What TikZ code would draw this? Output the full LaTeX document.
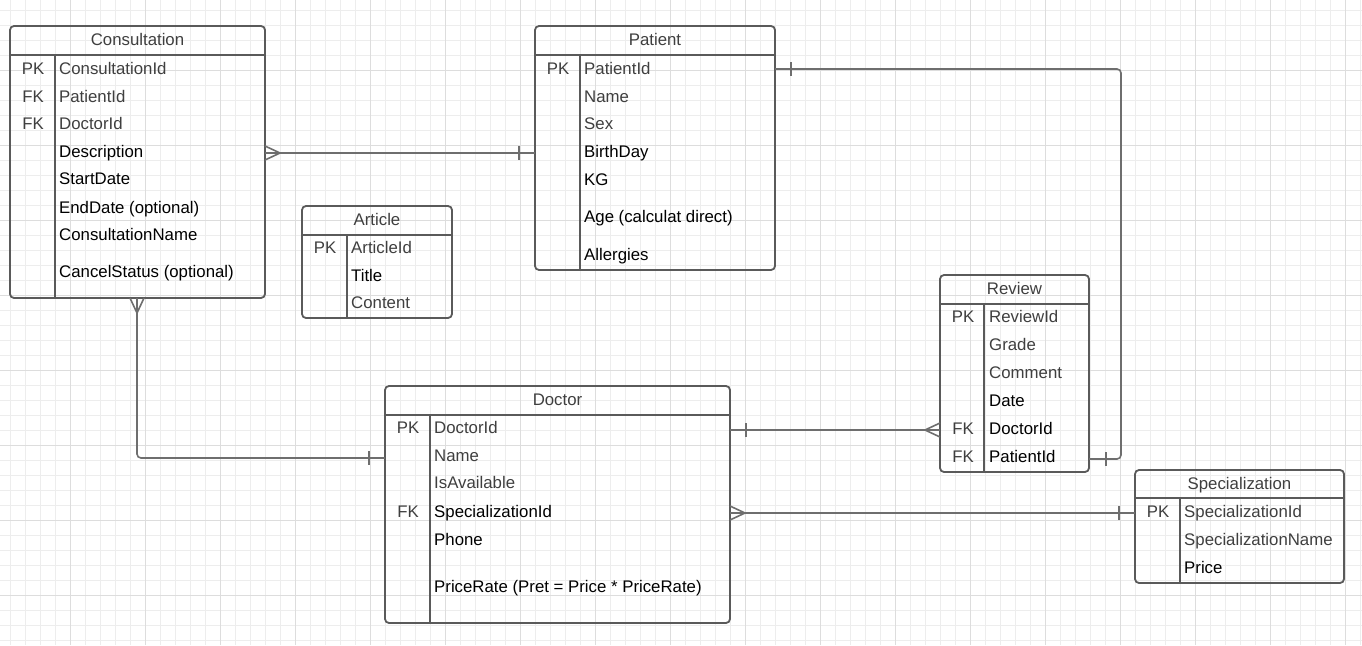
\documentclass[tikz,border=0pt]{standalone}
\usepackage{fontspec}
\setmainfont{Liberation Sans}
\definecolor{gridminor}{HTML}{EDEDED}
\definecolor{gridmajor}{HTML}{DDDDDD}
\definecolor{boxline}{HTML}{5A5A5A}
\definecolor{connline}{HTML}{6E6E6E}
\definecolor{txtgray}{HTML}{3F3F3F}
\tikzset{
  tbl/.style={draw=boxline, line width=1.8pt, rounded corners=4pt, fill=none, inner sep=0pt, outer sep=0pt, anchor=north west},
  tblline/.style={draw=boxline, line width=1.8pt},
  conn/.style={draw=connline, line width=1.6pt},
  fld/.style={anchor=base west, inner sep=0pt, font=\fontsize{16.8}{18}\selectfont, text=black},
  fldg/.style={fld, text=txtgray},
  keyl/.style={anchor=base, inner sep=0pt, font=\fontsize{16.8}{18}\selectfont, text=txtgray},
  ttl/.style={anchor=base, inner sep=0pt, font=\fontsize{16.8}{18}\selectfont, text=txtgray},
}
% #1 name, #2 left, #3 top, #4 width, #5 height, #6 header height, #7 divider offset, #8 title
\newcommand\ertbl[8]{%
  \node[tbl, minimum width=#4pt, minimum height=#5pt] (#1) at (#2,#3) {};
  \draw[tblline] ([yshift=-#6pt]#1.north west) -- ([yshift=-#6pt]#1.north east);
  \draw[tblline] ([xshift=#7pt,yshift=-#6pt]#1.north west) -- ([xshift=#7pt]#1.south west);
  \node[ttl] (#1-title) at ([yshift=-19pt]#1.north) {#8};
}
\begin{document}
\begin{tikzpicture}[x=1pt,y=-1pt]
\useasboundingbox (0,0) rectangle (1362,645);
\fill[white] (0,0) rectangle (1362,645);
% grid
\foreach \i in {0,...,90} {
  \draw[gridminor, line width=0.8pt] (10+15*\i,0) -- (10+15*\i,645);
}
\foreach \j in {0,...,42} {
  \draw[gridminor, line width=0.8pt] (0,10+15*\j) -- (1362,10+15*\j);
}
\foreach \i in {0,...,18} {
  \draw[gridmajor, line width=0.8pt] (70+75*\i,0) -- (70+75*\i,645);
}
\foreach \j in {0,...,8} {
  \draw[gridmajor, line width=0.8pt] (0,70+75*\j) -- (1362,70+75*\j);
}

% tables
\ertbl{consult}{10}{26}{255}{272}{29}{45}{Consultation}
\ertbl{patient}{535}{26}{240}{244}{29}{45}{Patient}
\ertbl{article}{302}{206}{150}{112}{29}{45}{Article}
\ertbl{review}{940}{275}{149}{197}{29}{44}{Review}
\ertbl{doctor}{385}{386}{345}{237}{29}{45}{Doctor}
\ertbl{spec}{1135}{470}{209}{113}{28}{45}{Specialization}

% Consultation fields
\node[keyl] (ck1) at (33,74) {PK};
\node[keyl] (ck2) at (33,102) {FK};
\node[keyl] (ck3) at (33,129) {FK};
\node[fldg] (cf1) at (59,74) {ConsultationId};
\node[fldg] (cf2) at (59,102) {PatientId};
\node[fldg] (cf3) at (59,129) {DoctorId};
\node[fld] (cf4) at (59,157) {Description};
\node[fld] (cf5) at (59,184) {StartDate};
\node[fld] (cf6) at (59,213) {EndDate (optional)};
\node[fld] (cf7) at (59,240) {ConsultationName};
\node[fld] (cf8) at (59,277) {CancelStatus (optional)};

% Patient fields
\node[keyl] (pk1) at (558,74) {PK};
\node[fldg] (pf1) at (584,74) {PatientId};
\node[fldg] (pf2) at (584,102) {Name};
\node[fldg] (pf3) at (584,129) {Sex};
\node[fld] (pf4) at (584,157) {BirthDay};
\node[fld] (pf5) at (584,185) {KG};
\node[fld] (pf6) at (584,222) {Age (calculat direct)};
\node[fld] (pf7) at (584,260) {Allergies};

% Article fields
\node[keyl] (ak1) at (325,253) {PK};
\node[fldg] (af1) at (351,253) {ArticleId};
\node[fld] (af2) at (351,281) {Title};
\node[fldg] (af3) at (351,308) {Content};

% Review fields
\node[keyl] (rk1) at (963,322) {PK};
\node[keyl] (rk2) at (963,434) {FK};
\node[keyl] (rk3) at (963,462) {FK};
\node[fldg] (rf1) at (989,322) {ReviewId};
\node[fldg] (rf2) at (989,350) {Grade};
\node[fldg] (rf3) at (989,378) {Comment};
\node[fld] (rf4) at (989,406) {Date};
\node[fld] (rf5) at (989,434) {DoctorId};
\node[fld] (rf6) at (989,462) {PatientId};

% Doctor fields
\node[keyl] (dk1) at (408,433) {PK};
\node[keyl] (dk2) at (408,517) {FK};
\node[fldg] (df1) at (434,433) {DoctorId};
\node[fldg] (df2) at (434,461) {Name};
\node[fldg] (df3) at (434,488) {IsAvailable};
\node[fld] (df4) at (434,517) {SpecializationId};
\node[fld] (df5) at (434,545) {Phone};
\node[fld] (df6) at (434,592) {PriceRate (Pret = Price * PriceRate)};

% Specialization fields
\node[keyl] (sk1) at (1158,517) {PK};
\node[fldg] (sf1) at (1184,517) {SpecializationId};
\node[fldg] (sf2) at (1184,545) {SpecializationName};
\node[fld] (sf3) at (1184,573) {Price};

% connectors
% Consultation (many) -- Patient (one)
\draw[conn] (consult.east |- 0,153) -- (patient.west |- 0,153);
\draw[conn] (265,146) -- (280,153) -- (265,160);
\draw[conn] (519,146) -- (519,160);

% Consultation (many) -- Doctor (one)
\draw[conn, rounded corners=4pt] (consult.south -| 137,0) -- (137,458) -- (doctor.west |- 0,458);
\draw[conn] (130,298) -- (137,313) -- (144,298);
\draw[conn] (369,451) -- (369,465);

% Patient (one) -- Review (one)
\draw[conn, rounded corners=4pt] (patient.east |- 0,69) -- (1121,69) -- (1121,459) -- (review.east |- 0,459);
\draw[conn] (791,62) -- (791,76);
\draw[conn] (1106,452) -- (1106,466);

% Doctor (one) -- Review (many)
\draw[conn] (doctor.east |- 0,430) -- (review.west |- 0,430);
\draw[conn] (746,423) -- (746,437);
\draw[conn] (940,423) -- (925,430) -- (940,437);

% Doctor (many) -- Specialization (one)
\draw[conn] (doctor.east |- 0,513) -- (spec.west |- 0,513);
\draw[conn] (730,506) -- (745,513) -- (730,520);
\draw[conn] (1119,506) -- (1119,520);
\end{tikzpicture}
\end{document}
